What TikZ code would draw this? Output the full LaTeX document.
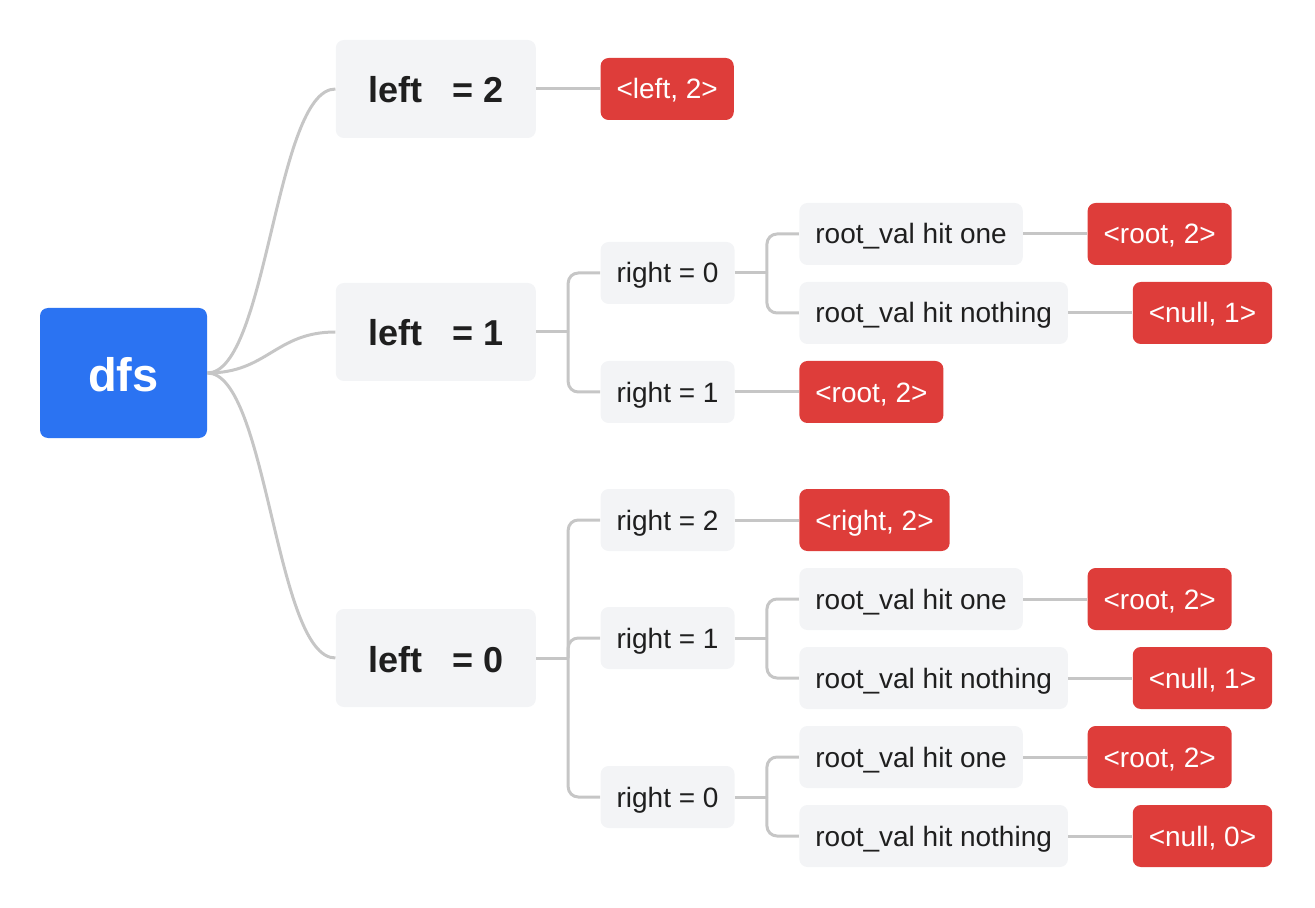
\documentclass[tikz,border=0pt]{standalone}
\usepackage{fontspec}
\setmainfont{Liberation Sans}
\usetikzlibrary{positioning}
\definecolor{mapblue}{HTML}{2B73F2}
\definecolor{mapred}{HTML}{DE3D3A}
\definecolor{mapgray}{HTML}{F3F4F6}
\definecolor{mapline}{HTML}{C6C6C6}
\definecolor{maptext}{HTML}{1F1F1F}
\begin{document}
\begin{tikzpicture}[x=0.5pt,y=-0.5pt,node distance=32pt,
    box/.style={rounded corners=4pt,inner xsep=8pt,minimum height=31pt,
      text height=11.5pt,text depth=1.5pt,font=\fontsize{14}{16}\selectfont},
    cond/.style={box,fill=mapgray,text=maptext},
    res/.style={box,fill=mapred,text=white},
    topic/.style={cond,minimum width=100pt,minimum height=49pt,
      text height=14pt,text depth=0pt,font=\fontsize{18}{20}\selectfont\bfseries},
    wire/.style={draw=mapline,line width=1.5pt,rounded corners=5pt}]
  \useasboundingbox (0,0) rectangle (1315,908);
  \node[rounded corners=4pt,fill=mapblue,text=white,minimum width=83.5pt,minimum height=65pt,
    text height=19pt,text depth=0pt,font=\fontsize{23.5}{26}\selectfont\bfseries] (dfs) at (123.5,373) {dfs};
  % first level
  \node[topic] (left2) [right=64pt of dfs,yshift=142pt] {left~~~= 2};
  \node[topic] (left1) [right=64pt of dfs,yshift=20.5pt] {left~~~= 1};
  \node[topic] (left0) [right=64pt of dfs,yshift=-142.5pt] {left~~~= 0};
  \draw[wire] (dfs.east) .. controls +(60,0) and +(-60,0) .. (left2.west);
  \draw[wire] (dfs.east) .. controls +(60,0) and +(-60,0) .. (left1.west);
  \draw[wire] (dfs.east) .. controls +(60,0) and +(-60,0) .. (left0.west);
  % left = 2
  \node[res] (left2out) [right=of left2] {<left, 2>};
  \draw[wire] (left2) -- (left2out);
  % left = 1
  \node[cond] (l1r0) [right=of left1,yshift=29.5pt] {right = 0};
  \node[cond] (l1r1) [right=of left1,yshift=-30pt] {right = 1};
  \draw[wire] (left1.east) -- ++(16pt,0) coordinate (j1);
  \draw[wire] (j1) |- (l1r0.west);
  \draw[wire] (j1) |- (l1r1.west);
  \node[cond] (l1r0one) [right=of l1r0,yshift=19.5pt] {root\_val hit one};
  \node[cond] (l1r0none) [right=of l1r0,yshift=-20pt] {root\_val hit nothing};
  \draw[wire] (l1r0.east) -- ++(16pt,0) coordinate (j10);
  \draw[wire] (j10) |- (l1r0one.west);
  \draw[wire] (j10) |- (l1r0none.west);
  \node[res] (l1r0oneout) [right=of l1r0one] {<root, 2>};
  \node[res] (l1r0noneout) [right=of l1r0none] {<null, 1>};
  \node[res] (l1r1out) [right=of l1r1] {<root, 2>};
  \draw[wire] (l1r0one) -- (l1r0oneout);
  \draw[wire] (l1r0none) -- (l1r0noneout);
  \draw[wire] (l1r1) -- (l1r1out);
  % left = 0
  \node[cond] (l0r2) [right=of left0,yshift=69pt] {right = 2};
  \node[cond] (l0r1) [right=of left0,yshift=10pt] {right = 1};
  \node[cond] (l0r0) [right=of left0,yshift=-69.5pt] {right = 0};
  \draw[wire] (left0.east) -- ++(16pt,0) coordinate (j0);
  \draw[wire] (j0) |- (l0r2.west);
  \draw[wire] (j0) |- (l0r1.west);
  \draw[wire] (j0) |- (l0r0.west);
  \node[res] (l0r2out) [right=of l0r2] {<right, 2>};
  \draw[wire] (l0r2) -- (l0r2out);
  \node[cond] (l0r1one) [right=of l0r1,yshift=19.5pt] {root\_val hit one};
  \node[cond] (l0r1none) [right=of l0r1,yshift=-20pt] {root\_val hit nothing};
  \draw[wire] (l0r1.east) -- ++(16pt,0) coordinate (j01);
  \draw[wire] (j01) |- (l0r1one.west);
  \draw[wire] (j01) |- (l0r1none.west);
  \node[res] (l0r1oneout) [right=of l0r1one] {<root, 2>};
  \node[res] (l0r1noneout) [right=of l0r1none] {<null, 1>};
  \draw[wire] (l0r1one) -- (l0r1oneout);
  \draw[wire] (l0r1none) -- (l0r1noneout);
  \node[cond] (l0r0one) [right=of l0r0,yshift=20pt] {root\_val hit one};
  \node[cond] (l0r0none) [right=of l0r0,yshift=-19.5pt] {root\_val hit nothing};
  \draw[wire] (l0r0.east) -- ++(16pt,0) coordinate (j00);
  \draw[wire] (j00) |- (l0r0one.west);
  \draw[wire] (j00) |- (l0r0none.west);
  \node[res] (l0r0oneout) [right=of l0r0one] {<root, 2>};
  \node[res] (l0r0noneout) [right=of l0r0none] {<null, 0>};
  \draw[wire] (l0r0one) -- (l0r0oneout);
  \draw[wire] (l0r0none) -- (l0r0noneout);
\end{tikzpicture}
\end{document}
